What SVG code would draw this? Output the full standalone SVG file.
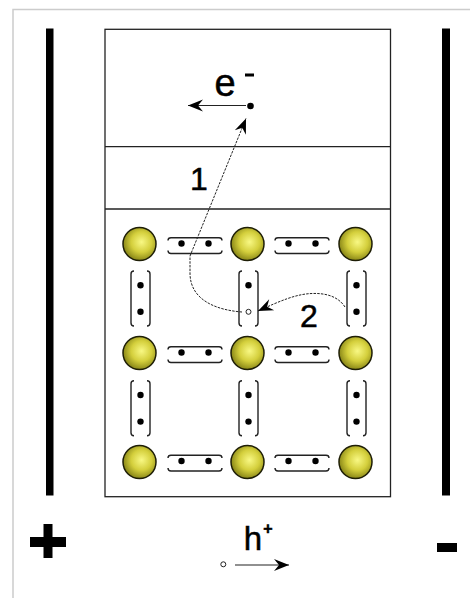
<svg xmlns="http://www.w3.org/2000/svg" width="470" height="598" viewBox="0 0 470 598">
  <style>
    .frame { fill: none; stroke: #222; stroke-width: 1.3; }
    .brk { fill: none; stroke: #222; stroke-width: 1.4; }
    .dot { fill: #000; }
    .atom { fill: url(#atomFill); stroke: #1e1e06; stroke-width: 1.5; }
    .lbl { font-family: "Liberation Sans", Arial, sans-serif; fill: #000; stroke: #000; stroke-width: 0.5; }
    .path { fill: none; stroke: #222; stroke-width: 1; stroke-dasharray: 2.5 1.2; }
    .solid { fill: none; stroke: #222; stroke-width: 1.1; }
  </style>
  <defs>
    <radialGradient id="atomFill" cx="56%" cy="44%" r="62%">
      <stop offset="0" stop-color="#f8f884"/>
      <stop offset="0.5" stop-color="#d4cf3c"/>
      <stop offset="1" stop-color="#7a7810"/>
    </radialGradient>
    <marker id="barb" viewBox="-16 -7 18 14" markerWidth="18" markerHeight="14" refX="0" refY="0" orient="auto" markerUnits="userSpaceOnUse">
      <path d="M0,0 L-15,-6 L-10,0 L-15,6 Z" fill="#000"/>
    </marker>
    <!-- horizontal electron-pair bond between two atoms -->
    <g id="hbond">
      <path class="brk" d="M-27,-3 Q-27,-5.7 -24,-5.7 L24,-5.7 Q27,-5.7 27,-3"/>
      <path class="brk" d="M-27,7 Q-27,10 -24,10 L24,10 Q27,10 27,7"/>
      <circle class="dot" cx="-13.5" cy="0" r="3.2"/>
      <circle class="dot" cx="13.5" cy="0" r="3.2"/>
    </g>
    <!-- vertical bond brackets without electrons -->
    <g id="vbrk">
      <path class="brk" d="M-6.5,-27.5 Q-9.5,-27.5 -9.5,-24.5 L-9.5,24.5 Q-9.5,27.5 -6.5,27.5"/>
      <path class="brk" d="M6.5,-27.5 Q9.5,-27.5 9.5,-24.5 L9.5,24.5 Q9.5,27.5 6.5,27.5"/>
    </g>
    <g id="vbond">
      <use href="#vbrk"/>
      <circle class="dot" cx="0" cy="-13.3" r="3.2"/>
      <circle class="dot" cx="0" cy="13.3" r="3.2"/>
    </g>
  </defs>

  <rect width="470" height="598" fill="#fff"/>
  <!-- page border -->
  <path d="M13,598 L13,9.5 L470,9.5" fill="none" stroke="#cccccc" stroke-width="1.5"/>

  <!-- electrodes -->
  <g id="anode">
    <rect x="46" y="28.5" width="7.5" height="467" fill="#000"/>
    <rect x="30" y="537" width="36" height="10" fill="#000"/>
    <rect x="43.5" y="524" width="9" height="34" fill="#000"/>
  </g>
  <g id="cathode">
    <rect x="442" y="28.5" width="8" height="467" fill="#000"/>
    <rect x="437" y="543" width="20" height="9" fill="#000"/>
  </g>

  <!-- band diagram frame -->
  <g id="crystal">
    <rect class="frame" x="105" y="29.3" width="285.5" height="467.4"/>
    <line class="frame" x1="105" y1="146.7" x2="390.5" y2="146.7"/>
    <line class="frame" x1="105" y1="209" x2="390.5" y2="209"/>
  </g>

  <!-- lattice bonds -->
  <g id="bonds">
    <use href="#hbond" x="195" y="243.5"/>
    <use href="#hbond" x="302" y="243.5"/>
    <use href="#hbond" x="195" y="352.5"/>
    <use href="#hbond" x="302" y="352.5"/>
    <use href="#hbond" x="195" y="461"/>
    <use href="#hbond" x="302" y="461"/>
    <use href="#vbond" x="140.5" y="298.5"/>
    <use href="#vbrk" x="248.5" y="298.5"/>
    <circle class="dot" cx="248.5" cy="285.2" r="3.2"/>
    <circle cx="248.5" cy="311.8" r="2.5" fill="#fff" stroke="#222" stroke-width="1"/>
    <use href="#vbond" x="356.5" y="298.5"/>
    <use href="#vbond" x="140.5" y="408.3"/>
    <use href="#vbond" x="248.5" y="408.3"/>
    <use href="#vbond" x="356.5" y="408.3"/>
  </g>

  <!-- lattice atoms -->
  <g id="atoms">
    <circle class="atom" cx="139.5" cy="244" r="16.5"/>
    <circle class="atom" cx="247.5" cy="244" r="16.5"/>
    <circle class="atom" cx="355.5" cy="244" r="16.5"/>
    <circle class="atom" cx="139.5" cy="353" r="16.5"/>
    <circle class="atom" cx="247.5" cy="353" r="16.5"/>
    <circle class="atom" cx="355.5" cy="353" r="16.5"/>
    <circle class="atom" cx="139.5" cy="462" r="16.5"/>
    <circle class="atom" cx="247.5" cy="462" r="16.5"/>
    <circle class="atom" cx="355.5" cy="462" r="16.5"/>
  </g>

  <!-- free electron -->
  <g id="electron">
    <circle cx="250.5" cy="106" r="3.3" fill="#000"/>
    <text class="lbl" x="225" y="96" font-size="38" text-anchor="middle">e</text>
    <rect x="245" y="73.5" width="9" height="3" fill="#000"/>
  </g>

  <!-- hole legend -->
  <g id="hole">
    <circle cx="223.3" cy="564.3" r="2.5" fill="#fff" stroke="#222" stroke-width="1"/>
    <text class="lbl" x="253" y="550" font-size="33" text-anchor="middle">h</text>
    <text class="lbl" x="268" y="533.5" font-size="16" text-anchor="middle" font-weight="bold">+</text>
  </g>

  <!-- transitions -->
  <g id="connectors">
    <line class="solid" x1="246" y1="105.5" x2="188" y2="105.5" marker-end="url(#barb)"/>
    <path class="path" d="M242,312 C216,310 190,300 190,273 L190,256 L246,118.5" marker-end="url(#barb)"/>
    <path class="path" d="M345,307 C338,296 325,293 312,293.5 C296,294 280,301 258,311" marker-end="url(#barb)"/>
    <line class="solid" x1="235" y1="565" x2="289" y2="565" marker-end="url(#barb)"/>
  </g>

  <g id="labels">
    <text class="lbl" x="199" y="190" font-size="32" text-anchor="middle">1</text>
    <text class="lbl" x="309" y="326.7" font-size="32" text-anchor="middle">2</text>
  </g>
</svg>
